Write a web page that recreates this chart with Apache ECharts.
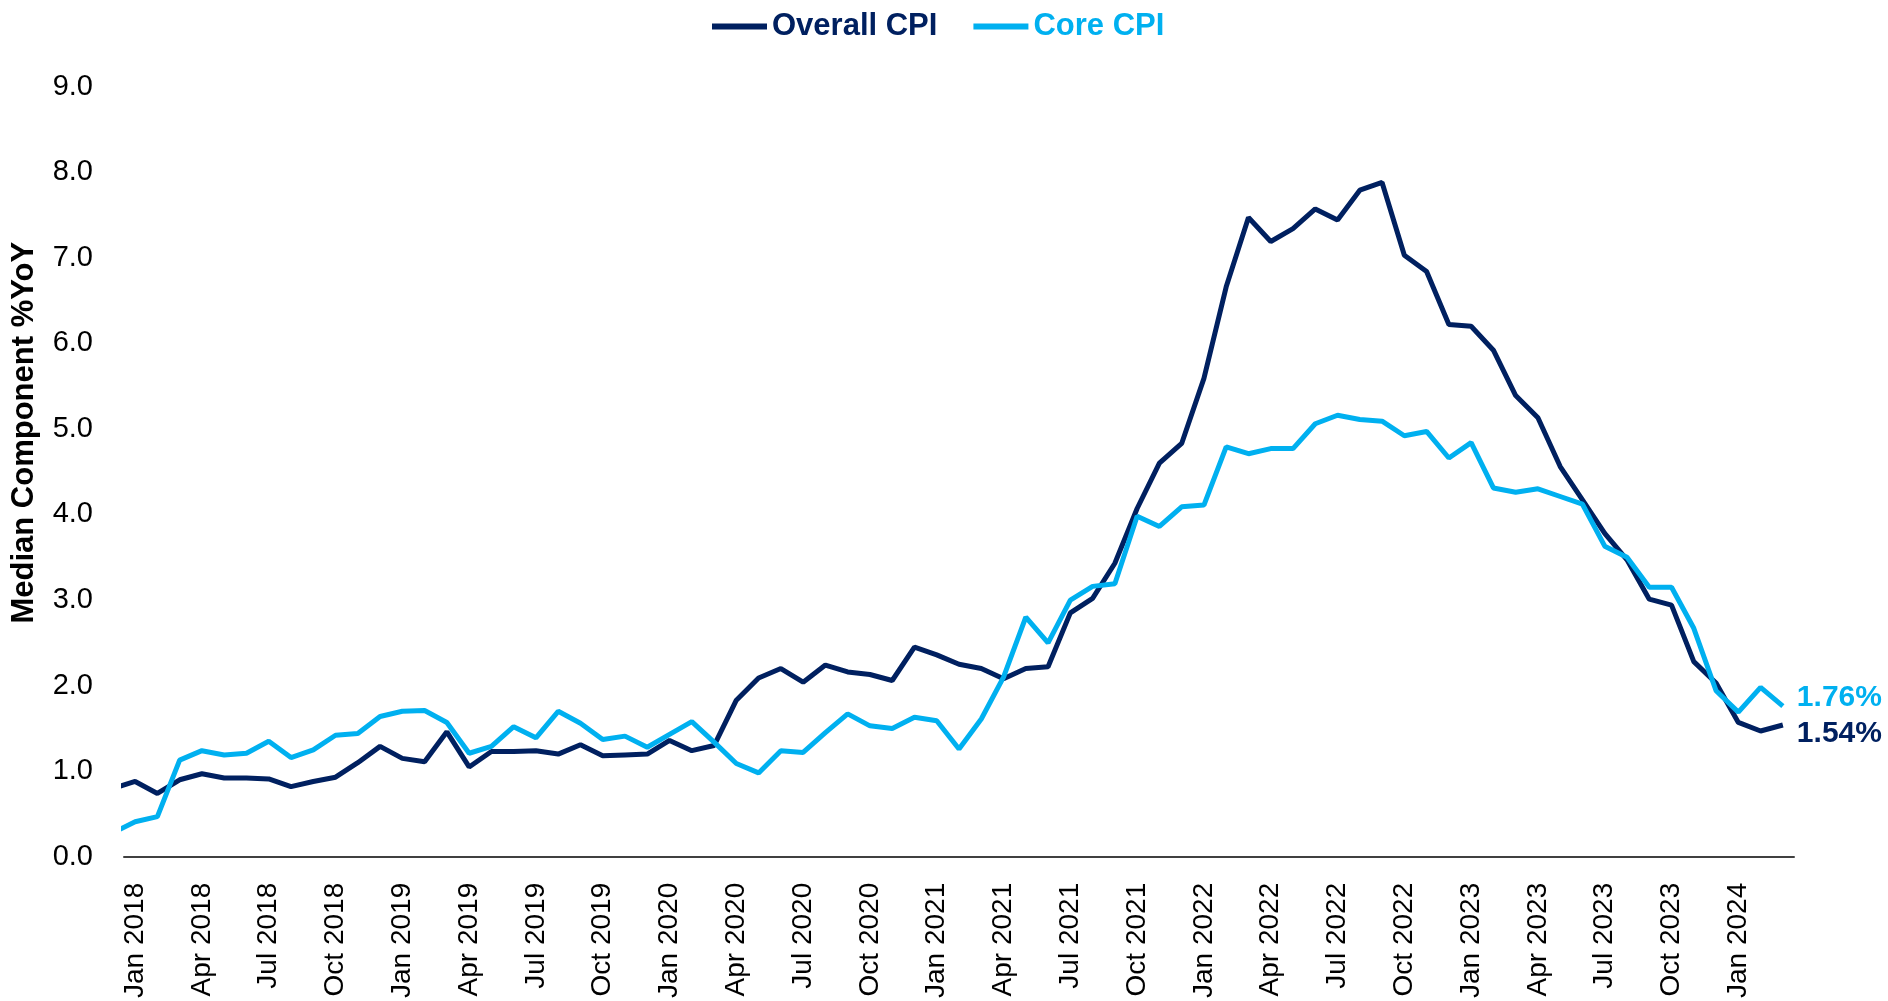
<!DOCTYPE html>
<html>
<head>
<meta charset="utf-8">
<title>Median Component CPI</title>
<script src="https://cdn.jsdelivr.net/npm/echarts@6/dist/echarts.min.js"></script>
<style>
  html, body { margin: 0; padding: 0; background: #fff; }
  #chart { width: 1888px; height: 1001px; }
</style>
</head>
<body>
<div id="chart"></div>
<script>
// months, Dec 2017 is only partly visible at the left edge
var months = [
  'Dec 2017',
  'Jan 2018', 'Feb 2018', 'Mar 2018', 'Apr 2018', 'May 2018', 'Jun 2018', 'Jul 2018', 'Aug 2018', 'Sep 2018', 'Oct 2018', 'Nov 2018', 'Dec 2018',
  'Jan 2019', 'Feb 2019', 'Mar 2019', 'Apr 2019', 'May 2019', 'Jun 2019', 'Jul 2019', 'Aug 2019', 'Sep 2019', 'Oct 2019', 'Nov 2019', 'Dec 2019',
  'Jan 2020', 'Feb 2020', 'Mar 2020', 'Apr 2020', 'May 2020', 'Jun 2020', 'Jul 2020', 'Aug 2020', 'Sep 2020', 'Oct 2020', 'Nov 2020', 'Dec 2020',
  'Jan 2021', 'Feb 2021', 'Mar 2021', 'Apr 2021', 'May 2021', 'Jun 2021', 'Jul 2021', 'Aug 2021', 'Sep 2021', 'Oct 2021', 'Nov 2021', 'Dec 2021',
  'Jan 2022', 'Feb 2022', 'Mar 2022', 'Apr 2022', 'May 2022', 'Jun 2022', 'Jul 2022', 'Aug 2022', 'Sep 2022', 'Oct 2022', 'Nov 2022', 'Dec 2022',
  'Jan 2023', 'Feb 2023', 'Mar 2023', 'Apr 2023', 'May 2023', 'Jun 2023', 'Jul 2023', 'Aug 2023', 'Sep 2023', 'Oct 2023', 'Nov 2023', 'Dec 2023',
  'Jan 2024', 'Feb 2024', 'Mar 2024'
]

// x axis tick labels (every 3rd month from Jan 2018)
var tickLabels = [
  'Jan 2018', 'Apr 2018', 'Jul 2018', 'Oct 2018',
  'Jan 2019', 'Apr 2019', 'Jul 2019', 'Oct 2019',
  'Jan 2020', 'Apr 2020', 'Jul 2020', 'Oct 2020',
  'Jan 2021', 'Apr 2021', 'Jul 2021', 'Oct 2021',
  'Jan 2022', 'Apr 2022', 'Jul 2022', 'Oct 2022',
  'Jan 2023', 'Apr 2023', 'Jul 2023', 'Oct 2023',
  'Jan 2024'
]

var overallCPI = [
  0.80,
  0.88, 0.74, 0.90, 0.97, 0.92, 0.92, 0.91, 0.82, 0.88, 0.93, 1.10, 1.29,
  1.15, 1.11, 1.46, 1.05, 1.23, 1.23, 1.24, 1.20, 1.31, 1.18, 1.19, 1.20,
  1.36, 1.24, 1.30, 1.83, 2.09, 2.20, 2.04, 2.24, 2.16, 2.13, 2.06, 2.45,
  2.36, 2.25, 2.20, 2.08, 2.20, 2.22, 2.85, 3.02, 3.43, 4.07, 4.60, 4.83,
  5.59, 6.66, 7.47, 7.19, 7.34, 7.57, 7.44, 7.79, 7.88, 7.03, 6.84, 6.22,
  6.20, 5.92, 5.39, 5.13, 4.56, 4.17, 3.78, 3.47, 3.01, 2.94, 2.28, 2.03,
  1.57, 1.47, 1.54
]

var coreCPI = [
  0.28,
  0.41, 0.47, 1.13, 1.24, 1.19, 1.21, 1.35, 1.16, 1.25, 1.42, 1.44, 1.64,
  1.70, 1.71, 1.57, 1.21, 1.29, 1.52, 1.39, 1.70, 1.56, 1.37, 1.41, 1.28,
  1.43, 1.58, 1.34, 1.09, 0.98, 1.24, 1.22, 1.45, 1.67, 1.53, 1.50, 1.63,
  1.59, 1.26, 1.61, 2.10, 2.80, 2.50, 3.00, 3.16, 3.19, 3.98, 3.86, 4.09,
  4.11, 4.79, 4.71, 4.77, 4.77, 5.06, 5.16, 5.11, 5.09, 4.92, 4.97, 4.66,
  4.84, 4.31, 4.26, 4.30, 4.21, 4.12, 3.63, 3.50, 3.15, 3.15, 2.67, 1.94,
  1.69, 1.98, 1.76
]

var DARK = '#002060'
var LIGHT = '#00B0F0'
var FONT = '"Liberation Sans", Arial, sans-serif'

// x is month index with Jan 2018 = 0
function toPairs (arr) {
  return arr.map(function (v, i) { return [i - 1, v] })
}

var chart = echarts.init(document.getElementById('chart'))

var option = {
  backgroundColor: '#fff',
  animation: false,
  legend: {
    top: 6,
    left: 707,
    icon: 'rect',
    itemWidth: 55,
    itemHeight: 6,
    itemGap: 36,
    textStyle: { fontFamily: FONT, fontWeight: 'bold', fontSize: 31 },
    data: [
      { name: 'Overall CPI', textStyle: { color: DARK } },
      { name: 'Core CPI', textStyle: { color: LIGHT } }
    ]
  },
  grid: {
    left: 124,
    right: 94,
    top: 86.6,
    bottom: 144,
    containLabel: false
  },
  xAxis: {
    type: 'value',
    min: -0.5,
    max: 74.5,
    splitLine: { show: false },
    axisTick: { show: false },
    axisLine: { show: true, onZero: false, lineStyle: { color: '#404040', width: 2 } },
    axisLabel: {
      customValues: tickLabels.map(function (t, k) { return k * 3 }),
      formatter: function (v) { return tickLabels[Math.round(v / 3)] },
      rotate: 90,
      margin: 26,
      color: '#000',
      fontFamily: FONT,
      fontSize: 28
    }
  },
  yAxis: {
    type: 'value',
    min: 0,
    max: 9,
    interval: 1,
    name: 'Median Component %YoY',
    nameLocation: 'middle',
    nameRotate: 90,
    nameGap: 84,
    nameTextStyle: {
      fontFamily: FONT,
      fontWeight: 'bold',
      fontSize: 31,
      color: '#000',
      padding: [0, 0, 0, 78]
    },
    splitLine: { show: false },
    axisTick: { show: false },
    axisLine: { show: false },
    axisLabel: {
      formatter: function (v) { return v.toFixed(1) },
      margin: 31,
      color: '#000',
      fontFamily: FONT,
      fontSize: 29
    }
  },
  series: [
    {
      name: 'Overall CPI',
      type: 'line',
      data: toPairs(overallCPI),
      showSymbol: false,
      symbol: 'none',
      color: DARK,
      lineStyle: { color: DARK, width: 5 },
      endLabel: {
        show: true,
        formatter: function (p) { return p.value[1].toFixed(2) + '%' },
        color: DARK,
        fontFamily: FONT,
        fontWeight: 'bold',
        fontSize: 30,
        distance: 14,
        offset: [0, 9]
      }
    },
    {
      name: 'Core CPI',
      type: 'line',
      data: toPairs(coreCPI),
      showSymbol: false,
      symbol: 'none',
      color: LIGHT,
      lineStyle: { color: LIGHT, width: 5 },
      endLabel: {
        show: true,
        formatter: function (p) { return p.value[1].toFixed(2) + '%' },
        color: LIGHT,
        fontFamily: FONT,
        fontWeight: 'bold',
        fontSize: 30,
        distance: 14,
        offset: [0, -8]
      }
    }
  ]
}

chart.setOption(option)
window.onresize = chart.resize
</script>
</body>
</html>
